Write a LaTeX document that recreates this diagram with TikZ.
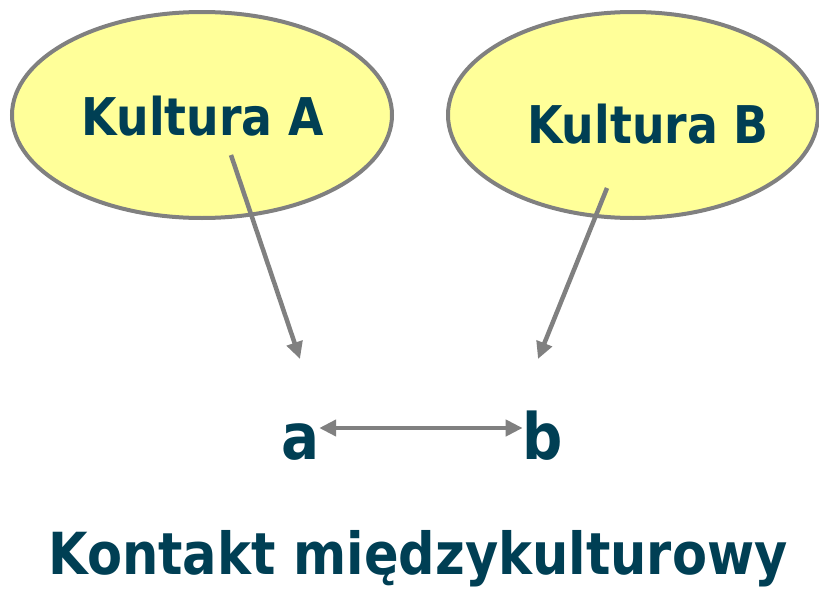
\documentclass[tikz,border=0pt]{standalone}
\usepackage{fontspec}
\setmainfont{DejaVu Sans}[FakeStretch=0.88]
\usetikzlibrary{arrows.meta, positioning}
\definecolor{cultfill}{HTML}{FFFF99}
\definecolor{cultline}{HTML}{808080}
\definecolor{cultink}{HTML}{003F54}
\tikzset{
    culture/.style={draw=cultline, line width=4pt, fill=cultfill},
    word/.style={text=cultink, font=\bfseries, inner sep=0pt, anchor=base},
    tip/.tip={Triangle[length=17pt, width=16pt]},
    link/.style={draw=cultline, line width=4.5pt, -tip},
    twoway/.style={draw=cultline, line width=4.5pt, tip-tip}
}

\begin{document}
\begin{tikzpicture}[x=1pt, y=-1pt]
    \useasboundingbox (0,0) rectangle (819,589);

    % Cultures.
    \draw [culture] (202,115) ellipse [x radius=190, y radius=103];
    \draw [culture] (633,115) ellipse [x radius=185, y radius=103];
    \node (kultA) [word, font=\bfseries\fontsize{52}{52}\selectfont] at (203,135) {Kultura A};
    \node (kultB) [word, font=\bfseries\fontsize{52}{52}\selectfont] at (648,143) {Kultura B};

    % Elements a and b.
    \node (a) [word, font=\bfseries\fontsize{64}{64}\selectfont] at (300,459) {a};
    \node (b) [word, font=\bfseries\fontsize{64}{64}\selectfont] at (543,459) {b};
    \node (title) [word, font=\bfseries\fontsize{58}{58}\selectfont] at (418,574) {Kontakt międzykulturowy};

    % Arrows.
    \coordinate (fromA) at (231,155);
    \coordinate (fromB) at (607,188);
    \coordinate (toA) at (300,359);
    \coordinate (toB) at (538,359);
    \draw [link] (fromA) -- (toA);
    \draw [link] (fromB) -- (toB);
    \draw [twoway] ([yshift=31pt]a.base east) -- ([yshift=31pt]b.base west);
\end{tikzpicture}
\end{document}
